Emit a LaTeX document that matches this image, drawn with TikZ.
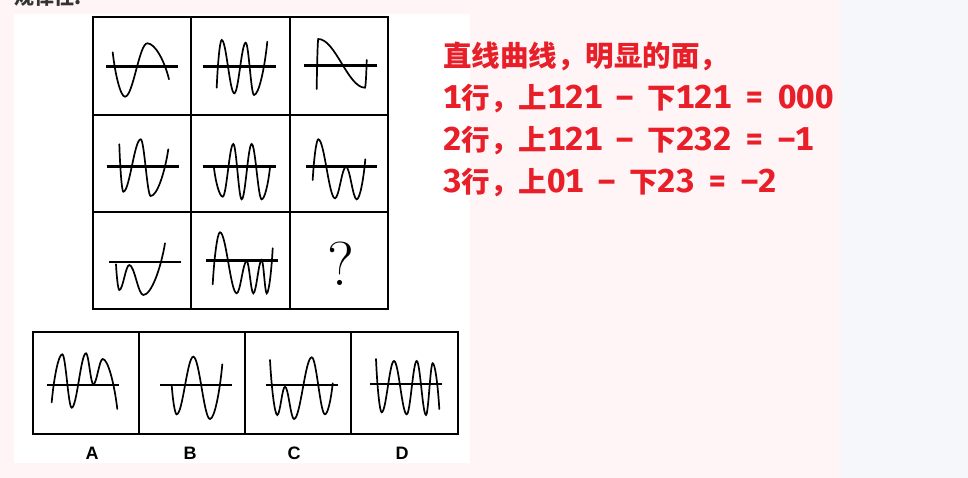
\documentclass[tikz,border=0pt]{standalone}
\usepackage{fontspec}
\newfontfamily\cjk{Noto Sans CJK SC}
\newfontfamily\lab{Liberation Sans}
\newfontfamily\latf{Fira Sans}[Numbers=Monospaced]
\definecolor{bgpink}{HTML}{FFF5F6}
\definecolor{bgblue}{HTML}{F6F7FB}
\definecolor{redtxt}{HTML}{E81E28}
\definecolor{hdrgray}{HTML}{333333}
\newcommand\D[1]{{\latf\bfseries\fontsize{33}{33}\selectfont #1}}
\newcommand\gap{\hspace{14pt}}
\newcommand\wave[3]{%
  \draw[wave] (#1,#2) \foreach \x/\y/\ty [remember=\x as \px (initially #1), remember=\y as \py (initially #2)] in {#3} {
    .. controls +({(0.3634-0.1634*(\ty==0))*(\x-\px)},{0.5*(\ty==0)*(\y-\py)}) and +({-(0.3634-0.1634*(\ty==2))*(\x-\px)},{-0.5*(\ty==2)*(\y-\py)}) .. (\x,\y)
  };}
\begin{document}
\begin{tikzpicture}[x=1pt,y=-1pt,
  wave/.style={line width=1.7pt, black, line cap=round},
  hline/.style={line width=2.4pt, black},
  grid/.style={line width=1.8pt, black},
  rt/.style={anchor=base west, inner sep=0pt, text=redtxt, font=\cjk\bfseries\fontsize{28.5}{28.5}\selectfont},
  lab/.style={inner sep=0pt, font=\lab\bfseries\fontsize{18}{18}\selectfont}]
\useasboundingbox (0,0) rectangle (968,478);
\fill[bgpink] (0,0) rectangle (968,478);
\fill[bgblue] (840,0) rectangle (968,478);
\fill[white] (14,14) rectangle (470,463);
\node[anchor=west, inner sep=0pt, text=hdrgray, font=\cjk\bfseries\fontsize{20}{20}\selectfont] (hdr) at (14,-3) {规律性:};
% grid
\draw[grid] (93,17) rectangle (388,309);
\draw[grid] (191,17) -- (191,309) (290,17) -- (290,309) (93,115) -- (388,115) (93,212) -- (388,212);
% options box
\draw[line width=2.3pt] (33,332) rectangle (458,434);
\draw[line width=1.5pt] (139,332) -- (139,434) (245,332) -- (245,434) (351,332) -- (351,434);
% horizontal lines
\draw[hline] (106,66.7) -- (178,66.7);
\draw[hline] (203.3,66.7) -- (275.7,66.7);
\draw[hline] (304,65.7) -- (376.7,65.7);
\draw[hline] (106.7,166.7) -- (179.3,166.7);
\draw[hline] (203.3,166.7) -- (275.7,166.7);
\draw[hline] (306,166.7) -- (377.3,166.7);
\draw[hline] (109,261.7) -- (181,261.7);
\draw[hline] (205.7,260.3) -- (278.3,260.3);
\draw[hline] (46.7,385) -- (119.3,385);
\draw[hline] (160,385) -- (232.3,385);
\draw[hline] (266,385) -- (337.7,385);
\draw[hline] (370,384) -- (442.3,384);
% waves
\wave{112.7}{52.3}{125/96.7/0, 147.3/43.3/1, 169/79.3/2}
\wave{216.7}{87.7}{221.7/40/0, 234.3/93.3/1, 245.7/42.7/1, 254/95/1, 267.3/41.7/2}
\wave{316.7}{89}{318.3/39/0, 365/87.7/1, 366.7/60/2}
\wave{119.3}{144.3}{123.3/191.7/0, 140.7/139.3/1, 150.7/196/1, 168.3/149.3/2}
\wave{214}{168.3}{222.7/196.7/0, 233.3/144/1, 241.7/199.3/1, 251.7/144/1, 261.7/199.3/1, 270/167.3/2}
\wave{312.7}{180}{318.3/139.3/0, 335/198.3/1, 346/166.7/1, 356.7/199.3/1, 365.3/159.3/2}
\wave{116}{264.3}{119.3/290/0, 129.3/265/1, 143.3/295/1, 165/243.3/2}
\wave{212.7}{284.3}{220/232.3/0, 236.7/293.3/1, 246.7/261/1, 253.3/293.3/1, 261.7/260/1, 266.7/293.3/1, 272.7/248.3/2}
\wave{51.7}{402.3}{62.3/354.3/0, 71.7/407.7/1, 86/353.3/1, 93.3/384.3/1, 102.7/359/1, 117.3/409/2}
\wave{171.7}{385}{176.7/414.3/0, 193.3/356.7/1, 210/419/1, 222.3/364.3/2}
\wave{270}{360}{277.3/415/0, 285/386.7/1, 294/419/1, 311.7/357.3/1, 325/414.3/1, 332.7/383.3/2}
\wave{376}{359}{381.7/412.3/0, 394/361/1, 406.7/414.3/1, 416.7/361/1, 426/415/1, 432.7/363.3/1, 439.3/409/2}
% question mark
\node[inner sep=0pt, font=\fontsize{62}{62}\selectfont] (q) at (340.5,264.2) {?};
% labels
\node[lab] (la) at (92,453.3) {A};
\node[lab] (lb) at (190,453.3) {B};
\node[lab] (lc) at (294,453.3) {C};
\node[lab] (ld) at (402,453.3) {D};
% red text
\node[rt] (t1) at (443,67) {直线曲线，明显的面，};
\node[rt] (t2) at (443,109) {\D{1}行，上\D{121}\gap\D{–}\gap 下\D{121}\gap\D{=}\gap\D{000}};
\node[rt] (t3) at (443,150.7) {\D{2}行，上\D{121}\gap\D{–}\gap 下\D{232}\gap\D{=}\gap\D{–1}};
\node[rt] (t4) at (443,193) {\D{3}行，上\D{01}\gap\D{–}\gap 下\D{23}\gap\D{=}\gap\D{–2}};
\end{tikzpicture}
\end{document}
